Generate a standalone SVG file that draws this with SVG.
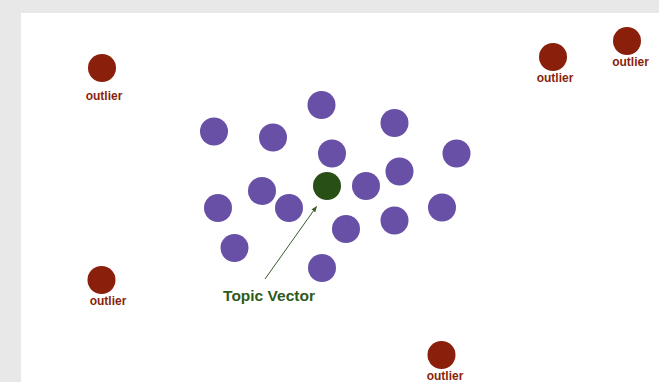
<svg xmlns="http://www.w3.org/2000/svg" width="659" height="382" viewBox="0 0 659 382">
  <defs>
    <style>
      .pt { fill: #6750a6; }
      .out { fill: #8a1f0b; }
      .out-label { font-family: "Liberation Sans", Arial, sans-serif; font-weight: bold; font-size: 12px; fill: #8a1f0b; text-anchor: middle; }
      .topic-label { font-family: "Liberation Sans", Arial, sans-serif; font-weight: bold; font-size: 15.5px; fill: #2e5a1c; text-anchor: middle; }
      .pointer { stroke: #3b5a2a; stroke-width: 1; fill: none; }
    </style>
    <marker id="tip" viewBox="0 0 10 10" refX="9" refY="5" markerWidth="6" markerHeight="6" orient="auto" markerUnits="userSpaceOnUse">
      <path d="M0,1 L10,5 L0,9 z" fill="#3b5a2a"/>
    </marker>
  </defs>

  <!-- canvas -->
  <rect x="0" y="0" width="659" height="382" fill="#e8e8e8"/>
  <rect x="21" y="13" width="638" height="369" fill="#ffffff"/>

  <!-- cluster of document points -->
  <g id="cluster">
    <circle class="pt" cx="214" cy="131.5" r="14"/>
    <circle class="pt" cx="273" cy="137.5" r="14"/>
    <circle class="pt" cx="321.5" cy="105" r="14"/>
    <circle class="pt" cx="332" cy="153.5" r="14"/>
    <circle class="pt" cx="394.5" cy="123" r="14"/>
    <circle class="pt" cx="456.5" cy="153.5" r="14"/>
    <circle class="pt" cx="399.5" cy="171.5" r="14"/>
    <circle class="pt" cx="366" cy="186" r="14"/>
    <circle class="pt" cx="442" cy="207.5" r="14"/>
    <circle class="pt" cx="394.5" cy="220.5" r="14"/>
    <circle class="pt" cx="346" cy="229" r="14"/>
    <circle class="pt" cx="218" cy="208" r="14"/>
    <circle class="pt" cx="262" cy="191" r="14"/>
    <circle class="pt" cx="289" cy="208" r="14"/>
    <circle class="pt" cx="234.5" cy="248" r="14"/>
    <circle class="pt" cx="322" cy="268" r="14"/>
  </g>

  <!-- topic vector (centroid) -->
  <g id="topic-vector">
    <circle cx="327" cy="186" r="14" fill="#285016"/>
    <text class="topic-label" x="269" y="300.5">Topic Vector</text>
  </g>

  <!-- outliers -->
  <g id="outlier-top-left">
    <circle class="out" cx="102" cy="68" r="14"/>
    <text class="out-label" x="104" y="99.5">outlier</text>
  </g>
  <g id="outlier-top-mid">
    <circle class="out" cx="553" cy="57" r="14"/>
    <text class="out-label" x="555" y="82">outlier</text>
  </g>
  <g id="outlier-top-right">
    <circle class="out" cx="627" cy="41" r="14"/>
    <text class="out-label" x="630.5" y="66">outlier</text>
  </g>
  <g id="outlier-left">
    <circle class="out" cx="101.5" cy="280" r="14"/>
    <text class="out-label" x="108" y="305">outlier</text>
  </g>
  <g id="outlier-bottom">
    <circle class="out" cx="441.5" cy="355" r="14"/>
    <text class="out-label" x="445" y="379.5">outlier</text>
  </g>

  <!-- connectors -->
  <g id="connectors">
    <line class="pointer" x1="265" y1="279" x2="316.5" y2="206.5" marker-end="url(#tip)"/>
  </g>
</svg>
